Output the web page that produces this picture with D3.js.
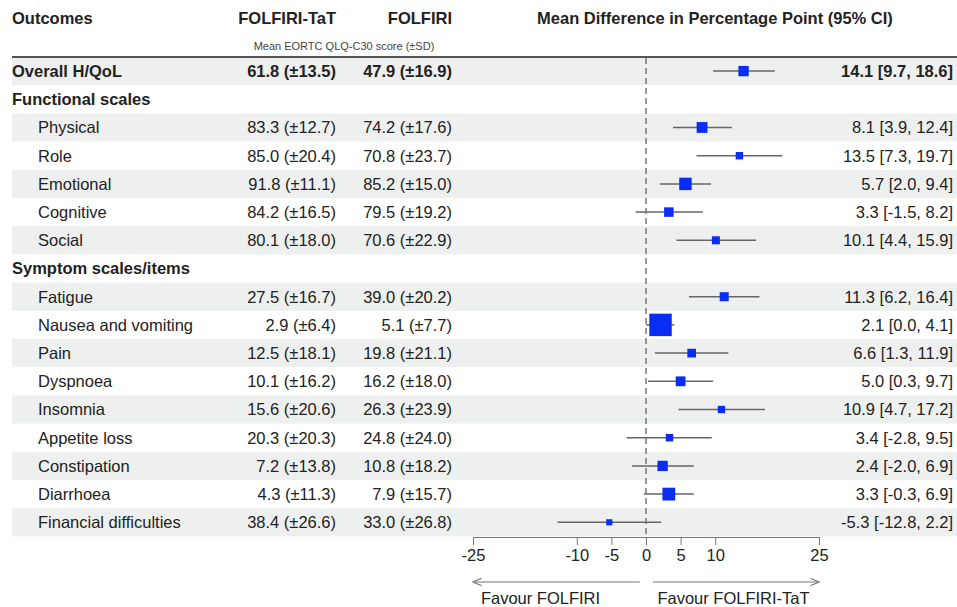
<!DOCTYPE html>
<html>
<head>
<meta charset="utf-8">
<script src="https://cdn.jsdelivr.net/npm/d3@7"></script>
<style>
  body { margin: 0; background: #fff; }
  svg text { font-family: "Liberation Sans", Arial, sans-serif; fill: #222; }
</style>
</head>
<body>
<div id="chart"></div>
<script>
// rows of the table, top to bottom
var outcomes = ["Overall H/QoL", "Functional scales", "Physical", "Role", "Emotional", "Cognitive", "Social",
    "Symptom scales/items", "Fatigue", "Nausea and vomiting", "Pain", "Dyspnoea", "Insomnia",
    "Appetite loss", "Constipation", "Diarrhoea", "Financial difficulties"];
// 0 = overall (bold), 1 = section heading, 2 = item
var levels = [0, 1, 2, 2, 2, 2, 2, 1, 2, 2, 2, 2, 2, 2, 2, 2, 2];

var tatMean = [61.8, null, 83.3, 85.0, 91.8, 84.2, 80.1, null, 27.5, 2.9, 12.5, 10.1, 15.6, 20.3, 7.2, 4.3, 38.4];
var tatSD   = [13.5, null, 12.7, 20.4, 11.1, 16.5, 18.0, null, 16.7, 6.4, 18.1, 16.2, 20.6, 20.3, 13.8, 11.3, 26.6];
var folMean = [47.9, null, 74.2, 70.8, 85.2, 79.5, 70.6, null, 39.0, 5.1, 19.8, 16.2, 26.3, 24.8, 10.8, 7.9, 33.0];
var folSD   = [16.9, null, 17.6, 23.7, 15.0, 19.2, 22.9, null, 20.2, 7.7, 21.1, 18.0, 23.9, 24.0, 18.2, 15.7, 26.8];

var meanDiff = [14.1, null, 8.1, 13.5, 5.7, 3.3, 10.1, null, 11.3, 2.1, 6.6, 5.0, 10.9, 3.4, 2.4, 3.3, -5.3];
var ciLow    = [9.7, null, 3.9, 7.3, 2.0, -1.5, 4.4, null, 6.2, 0.0, 1.3, 0.3, 4.7, -2.8, -2.0, -0.3, -12.8];
var ciHigh   = [18.6, null, 12.4, 19.7, 9.4, 8.2, 15.9, null, 16.4, 4.1, 11.9, 9.7, 17.2, 9.5, 6.9, 6.9, 2.2];

var xTicks = [-25, -10, -5, 0, 5, 10, 25];

var svgWidth = 957;
var svgHeight = 607;

var svg = d3.select("#chart")
    .append("svg")
    .attr("width", svgWidth)
    .attr("height", svgHeight);

var col1Right = 336, col2Right = 452, ciRight = 953;

var yScale = d3.scaleBand()
    .domain(d3.range(outcomes.length))
    .range([57, 536.4]);

var xScale = d3.scaleLinear()
    .domain([-25, 25])
    .range([473, 819]);

// box side shrinks with the width of the CI (inverse variance weight)
var boxScale = d3.scaleLinear()
    .domain([0, 1])
    .range([0, 92]);

// plain hyphen for negatives, like the original
var locale = d3.formatLocale({ decimal: ".", thousands: ",", grouping: [3], currency: ["", ""], minus: "-" });
var fmt = locale.format(".1f");

// shaded bands
svg.append("g").selectAll("rect")
    .data(d3.range(outcomes.length).filter(function(i) { return i % 2 == 0; }))
    .enter().append("rect")
    .attr("x", 12)
    .attr("y", function(i) { return yScale(i); })
    .attr("width", svgWidth - 12)
    .attr("height", yScale.bandwidth())
    .attr("fill", "#eef0f0");

// headers
var head = svg.append("g").style("font-weight", "bold").style("font-size", "16.5px");
head.append("text").attr("x", 12).attr("y", 24).text("Outcomes");
head.append("text").attr("x", col1Right).attr("y", 24).attr("text-anchor", "end").text("FOLFIRI-TaT");
head.append("text").attr("x", col2Right).attr("y", 24).attr("text-anchor", "end").text("FOLFIRI");
head.append("text").attr("x", 715).attr("y", 24).attr("text-anchor", "middle")
    .text("Mean Difference in Percentage Point (95% CI)");
svg.append("text").attr("x", 344).attr("y", 50).attr("text-anchor", "middle")
    .style("font-size", "11px").style("fill", "#444")
    .text("Mean EORTC QLQ-C30 score (±SD)");

svg.append("line")
    .attr("x1", 12).attr("x2", svgWidth)
    .attr("y1", 57).attr("y2", 57)
    .attr("stroke", "#555").attr("stroke-width", 2);

// table text
var rows = svg.append("g").selectAll("g")
    .data(d3.range(outcomes.length))
    .enter().append("g")
    .attr("transform", function(i) { return "translate(0," + (yScale(i) + yScale.bandwidth() / 2) + ")"; })
    .style("font-size", "16.5px")
    .style("font-weight", function(i) { return levels[i] < 2 ? "bold" : "normal"; });

rows.append("text")
    .attr("x", function(i) { return levels[i] < 2 ? 12 : 38; })
    .attr("dy", "0.36em")
    .text(function(i) { return outcomes[i]; });

rows.filter(function(i) { return tatMean[i] != null; }).each(function(i) {
    var g = d3.select(this);
    g.append("text").attr("x", col1Right).attr("dy", "0.36em").attr("text-anchor", "end")
        .text(fmt(tatMean[i]) + " (±" + fmt(tatSD[i]) + ")");
    g.append("text").attr("x", col2Right).attr("dy", "0.36em").attr("text-anchor", "end")
        .text(fmt(folMean[i]) + " (±" + fmt(folSD[i]) + ")");
    g.append("text").attr("x", ciRight).attr("dy", "0.36em").attr("text-anchor", "end")
        .text(fmt(meanDiff[i]) + " [" + fmt(ciLow[i]) + ", " + fmt(ciHigh[i]) + "]");
});

// zero line
svg.append("line")
    .attr("x1", xScale(0)).attr("x2", xScale(0))
    .attr("y1", 58).attr("y2", 537)
    .attr("stroke", "#777").attr("stroke-width", 1.5)
    .attr("stroke-dasharray", "6,4");

// CIs and boxes
var marks = rows.filter(function(i) { return meanDiff[i] != null; });
marks.append("line")
    .attr("x1", function(i) { return xScale(ciLow[i]); })
    .attr("x2", function(i) { return xScale(ciHigh[i]); })
    .attr("stroke", "#666").attr("stroke-width", 1.5);
marks.append("rect")
    .attr("x", function(i) { return xScale(meanDiff[i]) - boxScale(1 / (ciHigh[i] - ciLow[i])) / 2; })
    .attr("y", function(i) { return -boxScale(1 / (ciHigh[i] - ciLow[i])) / 2; })
    .attr("width", function(i) { return boxScale(1 / (ciHigh[i] - ciLow[i])); })
    .attr("height", function(i) { return boxScale(1 / (ciHigh[i] - ciLow[i])); })
    .attr("fill", "#0b2cf2");

// x axis
var axis = svg.append("g")
    .attr("transform", "translate(0,537)")
    .call(d3.axisBottom(xScale).tickValues(xTicks).tickFormat(locale.format("d"))
        .tickSize(8).tickSizeOuter(0).tickPadding(4));
axis.select(".domain").attr("stroke", "#777");
axis.selectAll(".tick line").attr("stroke", "#777");
axis.selectAll("text").style("font-size", "16.5px").style("font-family", "Liberation Sans, Arial, sans-serif").attr("fill", "#222");

// favour arrows
svg.append("defs").append("marker")
    .attr("id", "arr")
    .attr("viewBox", "0 0 10 10")
    .attr("refX", 9).attr("refY", 5)
    .attr("markerWidth", 8).attr("markerHeight", 8)
    .attr("orient", "auto-start-reverse")
    .append("path")
    .attr("d", "M0,1 L9,5 L0,9")
    .attr("fill", "none").attr("stroke", "#777").attr("stroke-width", 1.2);

svg.append("line")
    .attr("x1", xScale(-0.9)).attr("x2", xScale(-25))
    .attr("y1", 582).attr("y2", 582)
    .attr("stroke", "#777").attr("stroke-width", 1.2)
    .attr("marker-end", "url(#arr)");
svg.append("line")
    .attr("x1", xScale(1)).attr("x2", xScale(25))
    .attr("y1", 582).attr("y2", 582)
    .attr("stroke", "#777").attr("stroke-width", 1.2)
    .attr("marker-end", "url(#arr)");

svg.append("text").attr("x", (xScale(-25) + xScale(0)) / 2 - 19).attr("y", 604)
    .attr("text-anchor", "middle").style("font-size", "16.5px").text("Favour FOLFIRI");
svg.append("text").attr("x", (xScale(0) + xScale(25)) / 2 + 1).attr("y", 604)
    .attr("text-anchor", "middle").style("font-size", "16.5px").text("Favour FOLFIRI-TaT");
</script>
</body>
</html>
